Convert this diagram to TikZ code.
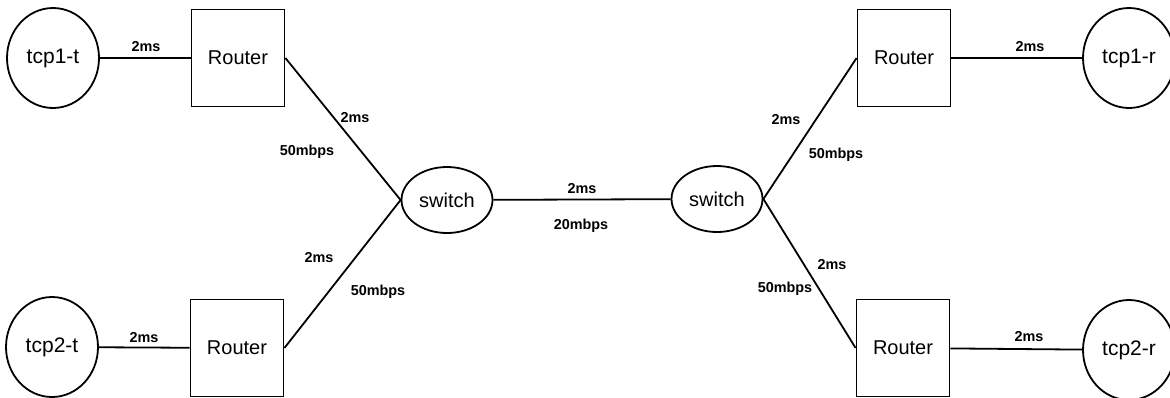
\documentclass[tikz,border=0pt]{standalone}
\usepackage{fontspec}
\setmainfont{Liberation Sans}
\usetikzlibrary{positioning,shapes.geometric}
\tikzset{
  host/.style={draw, ellipse, line width=.9pt, minimum width=46pt, minimum height=50pt, inner sep=0pt, font=\fontsize{10.5}{12}\selectfont},
  router/.style={draw, rectangle, line width=.9pt, minimum width=46.5pt, minimum height=48.5pt, inner sep=0pt, font=\fontsize{10}{12}\selectfont},
  swnode/.style={draw, ellipse, line width=.9pt, minimum width=45.5pt, minimum height=33pt, inner sep=0pt, font=\fontsize{10}{12}\selectfont},
  lbl/.style={inner sep=0pt, font=\fontsize{7.2}{8}\selectfont\bfseries},
  wire/.style={line width=.9pt}
}

\begin{document}
\begin{tikzpicture}[x=.5pt, y=-.5pt]
					\useasboundingbox (0, 0) rectangle (1170, 397);
					% hosts and routers
					\node[host] (tcpt1) at (53, 58) {tcp1-t};
					\node[host] (tcpt2) at (52, 347) {tcp2-t};
					\node[host] (tcpr1) at (1129, 58) {tcp1-r};
					\node[host] (tcpr2) at (1129, 350) {tcp2-r};
					\node[router] (rt1) at (238, 58) {Router};
					\node[router] (rt2) at (237, 348) {Router};
					\node[router] (rt3) at (904, 58) {Router};
					\node[router] (rt4) at (903, 348) {Router};
					\node[swnode] (sw1) at (447, 200) {switch};
					\node[swnode] (sw2) at (717, 199) {switch};
					% links
					\draw[wire] (tcpt1) -- (rt1);
					\draw[wire] (tcpt2) -- (rt2);
					\draw[wire] (rt3) -- (tcpr1);
					\draw[wire] (rt4) -- (tcpr2);
					\draw[wire] (rt1.east) -- (sw1.west);
					\draw[wire] (rt2.east) -- (sw1.west);
					\draw[wire] (sw1) -- (sw2);
					\draw[wire] (sw2.east) -- (rt3.west);
					\draw[wire] (sw2.east) -- (rt4.west);
					% delays and bandwidths
					\node[lbl] (d1) at (146, 47) {2ms};
					\node[lbl] (d2) at (355, 118) {2ms};
					\node[lbl] (b2) at (307, 152) {50mbps};
					\node[lbl] (d3) at (319, 258) {2ms};
					\node[lbl] (b3) at (378, 292) {50mbps};
					\node[lbl] (d4) at (144, 338) {2ms};
					\node[lbl] (d5) at (582, 189) {2ms};
					\node[lbl] (b5) at (581, 226) {20mbps};
					\node[lbl] (d6) at (786, 120) {2ms};
					\node[lbl] (b6) at (836, 155) {50mbps};
					\node[lbl] (d7) at (1030, 47) {2ms};
					\node[lbl] (d8) at (832, 265) {2ms};
					\node[lbl] (b8) at (785, 289) {50mbps};
					\node[lbl] (d9) at (1029, 337) {2ms};
				\end{tikzpicture}
\end{document}
